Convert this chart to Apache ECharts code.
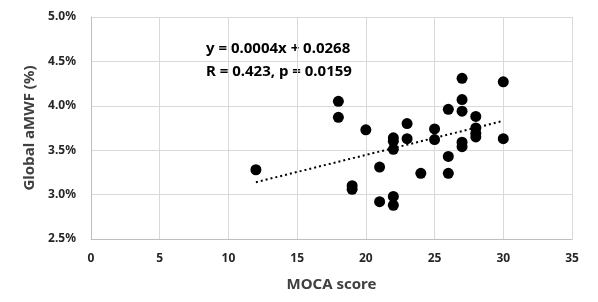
<!DOCTYPE html>
<html>
<head>
<meta charset="utf-8">
<script src="https://cdn.jsdelivr.net/npm/echarts@6/dist/echarts.min.js"></script>
<style>
  html, body { margin: 0; padding: 0; background: #fff; }
  #chart { width: 598px; height: 302px; }
</style>
</head>
<body>
<div id="chart"></div>
<script>
// MOCA score vs global aMWF (%)
var mocaScores = [12, 18, 18, 19, 19, 20, 21, 21, 22, 22, 22, 22, 22, 23, 23, 24,
                  25, 25, 26, 26, 26, 27, 27, 27, 27, 27, 28, 28, 28, 28, 30, 30];
var amwfValues = [3.28, 4.05, 3.87, 3.10, 3.06, 3.73, 3.31, 2.92, 3.64, 3.60, 3.51, 2.98, 2.88, 3.80, 3.63, 3.24,
                  3.74, 3.62, 3.96, 3.43, 3.24, 4.31, 4.07, 3.94, 3.59, 3.54, 3.88, 3.75, 3.69, 3.65, 4.27, 3.63];
// linear trend line end points
var trendX = [12, 30];
var trendY = [3.14, 3.83];
var fitLines = ['y = 0.0004x + 0.0268', 'R = 0.423, p = 0.0159'];

var points = mocaScores.map(function (x, i) { return [x, amwfValues[i]]; });
var trend = trendX.map(function (x, i) { return [x, trendY[i]]; });

var font = '"Noto Sans", "Open Sans", sans-serif';
var labelColor = '#262626';

var option = {
    backgroundColor: '#fff',
    animation: false,
    textStyle: { fontFamily: font },
    grid: { left: 91, right: 26, top: 17, bottom: 63 },
    xAxis: {
        type: 'value',
        min: 0, max: 35, interval: 5,
        name: 'MOCA score',
        nameLocation: 'middle',
        nameGap: 38,
        nameTextStyle: { color: '#404040', fontWeight: 'bold', fontSize: 15, fontFamily: font },
        axisLine: { show: true, lineStyle: { color: '#bfbfbf', width: 1 } },
        axisTick: { show: false },
        axisLabel: { color: labelColor, fontWeight: 'bold', fontSize: 12, margin: 14, fontFamily: font },
        splitLine: { show: true, lineStyle: { color: '#d9d9d9', width: 1 } }
    },
    yAxis: {
        type: 'value',
        min: 2.5, max: 5.0, interval: 0.5,
        name: 'Global aMWF (%)',
        nameLocation: 'middle',
        nameGap: 50,
        nameTextStyle: { color: '#404040', fontWeight: 'bold', fontSize: 15, fontFamily: font },
        axisLine: { show: true, lineStyle: { color: '#bfbfbf', width: 1 } },
        axisTick: { show: false },
        axisLabel: {
            color: labelColor, fontWeight: 'bold', fontSize: 12, margin: 15, fontFamily: font,
            formatter: function (v) { return v.toFixed(1) + '%'; }
        },
        splitLine: { show: true, lineStyle: { color: '#d9d9d9', width: 1 } }
    },
    graphic: [{
        type: 'text',
        left: 206, top: 37,
        style: {
            text: fitLines.join('\n'),
            font: 'bold 15px ' + font,
            fill: '#000',
            lineHeight: 23
        }
    }],
    series: [
        {
            type: 'line',
            data: trend,
            symbol: 'none',
            lineStyle: { color: '#000', width: 2, type: [2, 3] },
            z: 1
        },
        {
            type: 'scatter',
            data: points,
            symbolSize: 11,
            itemStyle: { color: '#000', opacity: 1 },
            z: 2
        }
    ]
};

echarts.init(document.getElementById('chart')).setOption(option);
</script>
</body>
</html>
